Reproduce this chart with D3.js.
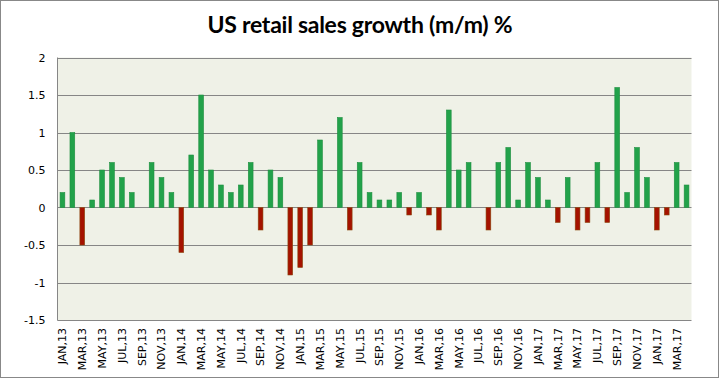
<!DOCTYPE html>
<html lang="en">
<head>
<meta charset="utf-8">
<title>US retail sales growth (m/m) %</title>
<script src="https://d3js.org/d3.v7.min.js"></script>
<style>
  body { margin: 0; background: #fff; }
  .tick text { font-family: "DejaVu Sans", Verdana, sans-serif; font-size: 11px; fill: #000; }
</style>
</head>
<body>
<script>
// one entry per month, Jan 2013 .. Apr 2018
var months = [];
for (var y = 13; y <= 18; y++) {
  ["JAN","FEB","MAR","APR","MAY","JUN","JUL","AUG","SEP","OCT","NOV","DEC"].forEach(function(m) {
    months.push(m + "," + y);
  });
}
months = months.slice(0, 64);

var growth = [
  0.2, 1.0, -0.5, 0.1, 0.5, 0.6, 0.4, 0.2, 0, 0.6, 0.4, 0.2,
  -0.6, 0.7, 1.5, 0.5, 0.3, 0.2, 0.3, 0.6, -0.3, 0.5, 0.4, -0.9,
  -0.8, -0.5, 0.9, 0, 1.2, -0.3, 0.6, 0.2, 0.1, 0.1, 0.2, -0.1,
  0.2, -0.1, -0.3, 1.3, 0.5, 0.6, 0, -0.3, 0.6, 0.8, 0.1, 0.6,
  0.4, 0.1, -0.2, 0.4, -0.3, -0.2, 0.6, -0.2, 1.6, 0.2, 0.8, 0.4,
  -0.3, -0.1, 0.6, 0.3
];

// labels as printed on the original (every second month; last year mislabelled there)
var tickLabels = [
  "JAN,13","MAR,13","MAY,13","JUL,13","SEP,13","NOV,13",
  "JAN,14","MAR,14","MAY,14","JUL,14","SEP,14","NOV,14",
  "JAN,15","MAR,15","MAY,15","JUL,15","SEP,15","NOV,15",
  "JAN,16","MAR,16","MAY,16","JUL,16","SEP,16","NOV,16",
  "JAN,17","MAR,17","MAY,17","JUL,17","SEP,17","NOV,17",
  "JAN,17","MAR,17"
];
var yTicks = [-1.5, -1, -0.5, 0, 0.5, 1, 1.5, 2];

var W = 720, H = 379;
var plotL = 57.5, plotR = 691.5, plotT = 57.5, plotB = 320;

var svg = d3.select("body").append("svg").attr("width", W).attr("height", H);

// outer frame
svg.append("rect")
  .attr("x", 0.5).attr("y", 0.5).attr("width", 718).attr("height", 377)
  .attr("fill", "#fff").attr("stroke", "#888");

svg.append("text")
  .attr("x", 360).attr("y", 33)
  .attr("text-anchor", "middle")
  .attr("textLength", 305)
  .style("font-family", "Lato, 'Open Sans', sans-serif")
  .style("font-weight", "bold")
  .style("font-size", "23px")
  .text("US retail sales growth (m/m) %");

var xScale = d3.scaleBand().domain(months).range([plotL, plotR]).paddingInner(0.52).paddingOuter(0.26);
var yScale = d3.scaleLinear().domain([-1.5, 2]).range([plotB, plotT]);

// plot background
svg.append("rect")
  .attr("x", plotL).attr("y", plotT)
  .attr("width", plotR - plotL).attr("height", plotB - plotT)
  .attr("fill", "#eff1e7");

// gridlines
svg.append("g")
  .selectAll("line")
  .data(yTicks)
  .enter()
  .append("line")
  .attr("x1", plotL).attr("x2", plotR)
  .attr("y1", function(d) { return Math.round(yScale(d)) + 0.5; })
  .attr("y2", function(d) { return Math.round(yScale(d)) + 0.5; })
  .attr("stroke", "#868686");

svg.append("line")
  .attr("x1", plotL).attr("x2", plotL)
  .attr("y1", plotT).attr("y2", plotB + 0.5)
  .attr("stroke", "#868686");

// y axis labels
var yAxis = d3.axisLeft(yScale).tickValues(yTicks).tickSize(0).tickPadding(12)
  .tickFormat(function(d) { return d; });
svg.append("g")
  .attr("transform", "translate(" + plotL + ",0)")
  .call(yAxis)
  .call(function(g) { g.select(".domain").remove(); });

// x axis labels
var labelled = months.filter(function(d, i) { return i % 2 === 0; });
var xAxis = d3.axisBottom(xScale).tickValues(labelled).tickSize(0)
  .tickFormat(function(d, i) { return tickLabels[i]; });
svg.append("g")
  .attr("transform", "translate(0," + plotB + ")")
  .call(xAxis)
  .call(function(g) { g.select(".domain").remove(); })
  .selectAll("text")
  .attr("transform", "rotate(-90)")
  .attr("text-anchor", "end")
  .attr("x", -8)
  .attr("y", 0)
  .attr("dy", "0.35em");

// bars
svg.append("g")
  .selectAll("rect")
  .data(growth)
  .enter()
  .append("rect")
  .attr("x", function(d, i) { return xScale(months[i]); })
  .attr("width", xScale.bandwidth())
  .attr("y", function(d) { return yScale(Math.max(0, d)); })
  .attr("height", function(d) { return Math.abs(yScale(d) - yScale(0)); })
  .attr("fill", function(d) { return d >= 0 ? "#22a24a" : "#a51200"; })
  .attr("stroke", function(d) { return d >= 0 ? "#1f8f40" : "#8a4a10"; })
  .attr("stroke-width", 0.6);
</script>
</body>
</html>
